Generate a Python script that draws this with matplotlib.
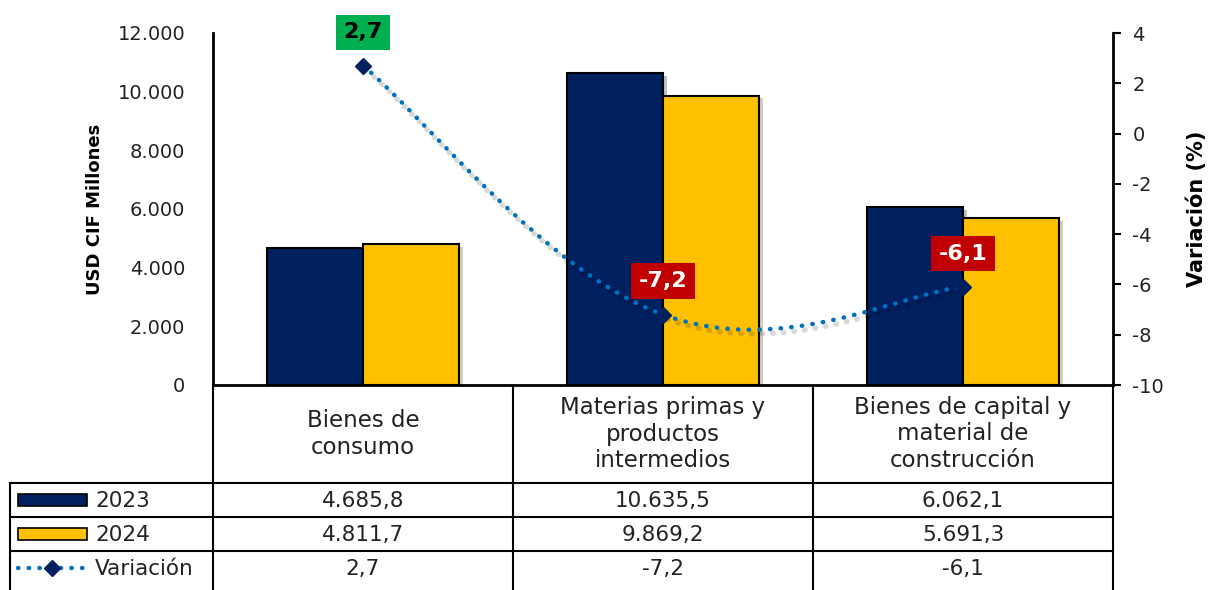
import matplotlib

matplotlib.use("Agg")
import matplotlib.pyplot as plt
import matplotlib.patheffects as pe
from matplotlib.path import Path
from matplotlib.patches import PathPatch, Rectangle
from matplotlib.lines import Line2D

# datos
categorias = ["Bienes de\nconsumo", "Materias primas y\nproductos\nintermedios",
              "Bienes de capital y\nmaterial de\nconstrucción"]
v2023 = [4685.8, 10635.5, 6062.1]
v2024 = [4811.7, 9869.2, 5691.3]
variacion = [2.7, -7.2, -6.1]
txt2023 = ["4.685,8", "10.635,5", "6.062,1"]
txt2024 = ["4.811,7", "9.869,2", "5.691,3"]
txtvar = ["2,7", "-7,2", "-6,1"]
yticks_izq = [0, 2000, 4000, 6000, 8000, 10000, 12000]
yticks_der = [-10, -8, -6, -4, -2, 0, 2, 4]

C23 = "#002060"
C24 = "#FFC000"
CLINE = "#0070C0"
INK = "#222222"

plt.rcParams["font.family"] = ["DejaVu Sans"]
W, H = 1214, 590
fig = plt.figure(figsize=(W / 100, H / 100), dpi=100)

# ejes principales (pixeles de la referencia)
L, R, T, B = 213, 1113, 33, 385
ax = fig.add_axes([L / W, 1 - B / H, (R - L) / W, (B - T) / H])
x = list(range(len(categorias)))
bw = 0.32
shadow = [pe.SimplePatchShadow(offset=(3, -2), alpha=0.25), pe.Normal()]
b1 = ax.bar([i - bw / 2 for i in x], v2023, bw, color=C23, edgecolor="black", lw=1.5)
b2 = ax.bar([i + bw / 2 for i in x], v2024, bw, color=C24, edgecolor="black", lw=1.5)
for p in list(b1) + list(b2):
    p.set_path_effects(shadow)
ax.set_xlim(-0.5, 2.5)
ax.set_ylim(0, 12000)
ax.set_yticks(yticks_izq)
ax.set_yticklabels([f"{v:,}".replace(",", ".") for v in yticks_izq], fontsize=14, color=INK)
ax.tick_params(axis="y", length=0, pad=20)
ax.set_xticks([])
for s in ("top", "right"):
    ax.spines[s].set_visible(False)
ax.spines["left"].set_linewidth(2)
ax.spines["bottom"].set_linewidth(2)
ax.set_ylabel("USD CIF Millones", fontsize=13, fontweight="bold", labelpad=10)

# eje secundario: variacion
ax2 = ax.twinx()
ax2.set_ylim(-10, 4)
ax2.set_yticks(yticks_der)
ax2.set_yticklabels([str(v) for v in yticks_der], fontsize=14, color=INK)
ax2.tick_params(axis="y", length=6, width=1.5, pad=8)
for s in ("top", "left", "bottom"):
    ax2.spines[s].set_visible(False)
ax2.spines["right"].set_linewidth(2)
ax2.set_ylabel("Variación (%)", fontsize=15, fontweight="bold", labelpad=16)

# curva suavizada tipo Excel (bezier entre los puntos)
k = 0.2
pts = list(zip(x, variacion))
verts, codes = [pts[0]], [Path.MOVETO]
for i in range(len(pts) - 1):
    p0 = pts[i - 1] if i > 0 else pts[i]
    p1, p2 = pts[i], pts[i + 1]
    p3 = pts[i + 2] if i + 2 < len(pts) else p2
    c1 = (p1[0] + k * (p2[0] - p0[0]), p1[1] + k * (p2[1] - p0[1]))
    c2 = (p2[0] - k * (p3[0] - p1[0]), p2[1] - k * (p3[1] - p1[1]))
    verts += [c1, c2, p2]
    codes += [Path.CURVE4] * 3
curve = PathPatch(Path(verts, codes), fill=False, edgecolor=CLINE, lw=3.2,
                  linestyle=(0, (0.1, 2.3)), capstyle="round",
                  path_effects=[pe.SimpleLineShadow(offset=(2, -3), alpha=0.15, linewidth=4), pe.Normal()])
ax2.add_patch(curve)
ax2.plot(x, variacion, ls="none", marker="D", ms=8, color=C23, zorder=5)

for xi, v, t in zip(x, variacion, txtvar):
    fc, tc = ("#00B050", "black") if v > 0 else ("#C00000", "white")
    ax2.annotate(t, (xi, v), xytext=(0, 24), textcoords="offset points",
                 ha="center", va="center", fontsize=16, fontweight="bold", color=tc,
                 bbox=dict(boxstyle="square,pad=0.35", fc=fc, ec="none"), zorder=6)

# tabla de datos (coordenadas en pixeles)
tb = fig.add_axes([0, 0, 1, 1], zorder=-1)
tb.set_xlim(0, W)
tb.set_ylim(H, 0)
tb.axis("off")
cols = [213, 513, 813, 1113]
rows = [483, 517, 551, 592]
lk = dict(color="black", lw=1.5)
for cx in cols:
    tb.plot([cx, cx], [B, H], **lk)
tb.plot([10, 10], [rows[0], H], **lk)
for ry in rows[:-1]:
    tb.plot([10, R], [ry, ry], **lk)

ry = [(rows[j] + min(rows[j + 1], 585)) / 2 for j in range(3)]
for i, cat in enumerate(categorias):
    cx = (cols[i] + cols[i + 1]) / 2
    tb.text(cx, (B + rows[0]) / 2, cat, ha="center", va="center", fontsize=16.5,
            color=INK, linespacing=1.2)
    for j, vals in enumerate([txt2023, txt2024, txtvar]):
        tb.text(cx, ry[j] + 1, vals[i], ha="center", va="center", fontsize=15.5, color=INK)

# claves de leyenda
tb.add_patch(Rectangle((18, ry[0] - 6), 69, 12, fc=C23, ec="black", lw=1.2))
tb.add_patch(Rectangle((18, ry[1] - 6), 69, 12, fc=C24, ec="black", lw=1.2))
tb.add_line(Line2D([18, 87], [ry[2], ry[2]], color=CLINE, lw=3.2,
                   linestyle=(0, (0.1, 2.3)), dash_capstyle="round"))
tb.plot([52], [ry[2]], marker="D", ms=8, color=C23)
for j, lab in enumerate(["2023", "2024", "Variación"]):
    tb.text(95, ry[j] + 1, lab, ha="left", va="center", fontsize=15.5, color=INK)

fig.savefig("out.png", dpi=100)
